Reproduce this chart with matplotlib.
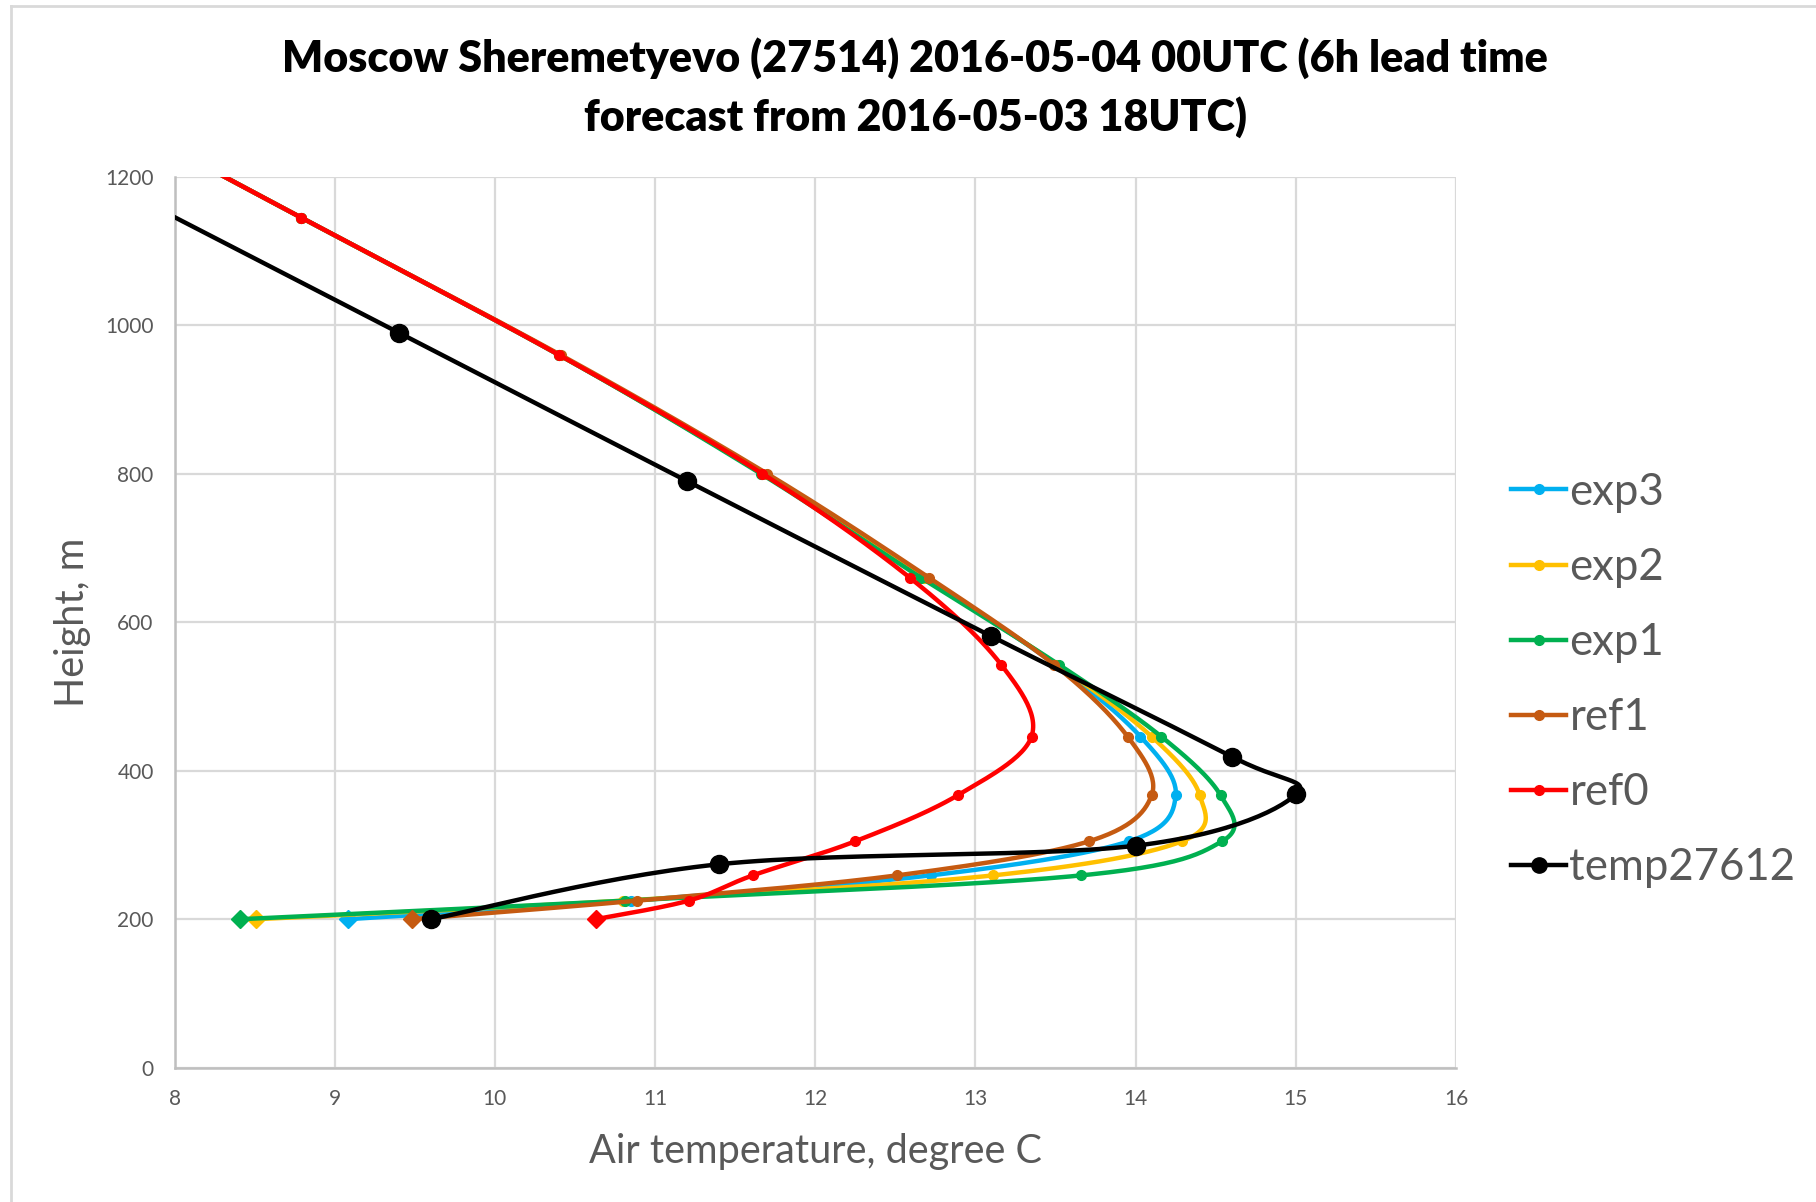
import numpy as np
import matplotlib
matplotlib.use("Agg")
import matplotlib.pyplot as plt
from matplotlib.lines import Line2D

plt.rcParams['font.family'] = ['Lato', 'DejaVu Sans']

# model levels, m
model_heights = [200, 225, 259, 305, 367, 446, 543, 660, 800, 960, 1145, 1360]

exp3 = [9.08, 10.85, 12.72, 13.96, 14.25, 14.03, 13.50, 12.68, 11.67, 10.40, 8.79, 6.92]
exp2 = [8.51, 10.80, 13.11, 14.29, 14.40, 14.10, 13.51, 12.68, 11.67, 10.40, 8.79, 6.92]
exp1 = [8.41, 10.81, 13.66, 14.54, 14.53, 14.16, 13.52, 12.66, 11.66, 10.40, 8.79, 6.92]
ref1 = [9.48, 10.89, 12.51, 13.71, 14.10, 13.95, 13.49, 12.71, 11.70, 10.41, 8.79, 6.92]
ref0 = [10.63, 11.21, 11.61, 12.25, 12.89, 13.35, 13.16, 12.59, 11.67, 10.40, 8.79, 6.92]

# sounding
obs_heights = [200, 274, 299, 368, 419, 581, 790, 990, 1190]
temp27612 = [9.60, 11.40, 14.00, 15.00, 14.60, 13.10, 11.20, 9.40, 7.60]

series_names = ['exp3', 'exp2', 'exp1', 'ref1', 'ref0', 'temp27612']
series_colors = ['#00B0F0', '#FFC000', '#00B050', '#C55A11', '#FF0000', '#000000']

W, H = 1816, 1202
fig = plt.figure(figsize=(W / 100, H / 100), dpi=100)
ax = fig.add_axes([174.5 / W, 1 - 1067.7 / H, (1456 - 174.5) / W, (1067.7 - 176.7) / H])
ax.set_xlim(8, 16)
ax.set_ylim(0, 1200)


def excel_smooth(xs, ys, n=30):
    # Catmull-Rom style bezier, done in pixel space like Excel does
    pts = ax.transData.transform(np.column_stack([xs, ys]))
    out = [pts[0]]
    for i in range(len(pts) - 1):
        p0 = pts[i - 1] if i > 0 else pts[i]
        p1 = pts[i]
        p2 = pts[i + 1]
        p3 = pts[i + 2] if i + 2 < len(pts) else pts[i + 1]
        c1 = p1 + (p2 - p0) / 6.0
        c2 = p2 - (p3 - p1) / 6.0
        t = np.linspace(0, 1, n)[1:, None]
        seg = ((1 - t) ** 3) * p1 + 3 * ((1 - t) ** 2) * t * c1 + 3 * (1 - t) * t ** 2 * c2 + t ** 3 * p2
        out.extend(seg)
    out = np.array(out)
    back = ax.transData.inverted().transform(out)
    return back[:, 0], back[:, 1]


model_series = [exp3, exp2, exp1, ref1, ref0]
handles = []
for name, temps, col in zip(series_names[:5], model_series, series_colors[:5]):
    sx, sy = excel_smooth(temps, model_heights)
    ax.plot(sx, sy, color=col, lw=3.2, solid_capstyle='round', zorder=3)
    ax.plot(temps[1:], model_heights[1:], 'o', color=col, ms=7, zorder=3)
    ax.plot(temps[:1], model_heights[:1], 'D', color=col, ms=9, zorder=3)
    handles.append(Line2D([], [], color=col, lw=3.2, marker='o', ms=7))

sx, sy = excel_smooth(temp27612, obs_heights)
ax.plot(sx, sy, color='black', lw=3.2, zorder=4)
ax.plot(temp27612, obs_heights, 'o', color='black', ms=13, zorder=4)
handles.append(Line2D([], [], color='black', lw=3.2, marker='o', ms=11))

ax.set_xticks(np.arange(8, 17, 1))
ax.set_yticks(np.arange(0, 1201, 200))
ax.grid(True, color='#D9D9D9', lw=1.6)
ax.set_axisbelow(True)
for s in ['top', 'right']:
    ax.spines[s].set_visible(False)
for s in ['left', 'bottom']:
    ax.spines[s].set_color('#BFBFBF')
    ax.spines[s].set_linewidth(1.8)
ax.tick_params(length=0, labelsize=15, labelcolor='#595959', pad=15)

ax.set_xlabel('Air temperature, degree C', fontsize=28.5, color='#595959', labelpad=17.5)
ax.set_ylabel('Height, m', fontsize=28.5, color='#595959', labelpad=10)

fig.text(0.504, 1 - 58 / H, 'Moscow Sheremetyevo (27514) 2016-05-04 00UTC (6h lead time',
         ha='center', va='center', fontsize=31, fontweight='heavy')
fig.text(0.504, 1 - 117 / H, 'forecast from 2016-05-03 18UTC)',
         ha='center', va='center', fontsize=31, fontweight='heavy')

leg = ax.legend(handles, series_names, loc='center left', bbox_to_anchor=(1.0295, 0.435),
                frameon=False, fontsize=31.5, labelcolor='#595959', handlelength=1.25,
                handletextpad=0.08, labelspacing=0.78, borderaxespad=0)

# chart area border (top and left edges visible)
fig.add_artist(Line2D([11 / W, 11 / W], [0, 1 - 6 / H], color='#D9D9D9', lw=2, transform=fig.transFigure))
fig.add_artist(Line2D([11 / W, 1], [1 - 6 / H, 1 - 6 / H], color='#D9D9D9', lw=2, transform=fig.transFigure))

fig.savefig('out.png', dpi=100)
